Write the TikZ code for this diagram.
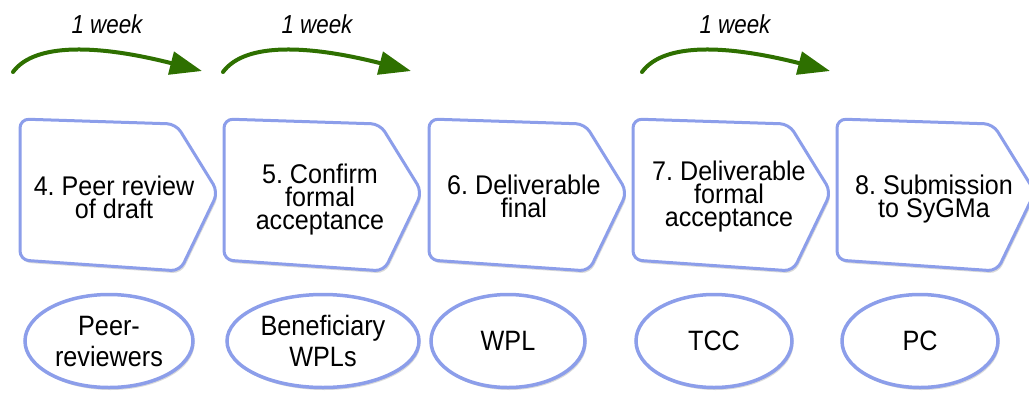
\documentclass[tikz,border=0pt]{standalone}
\usepackage{fontspec}
\setmainfont{Liberation Sans}
\newfontfamily\chevf[FakeStretch=0.93]{Liberation Sans}
\newfontfamily\ellf[FakeStretch=0.9]{Liberation Sans}
\newfontfamily\weekf[FakeStretch=0.86]{Liberation Sans}
\usetikzlibrary{shapes.geometric,shadows,arrows.meta}
\definecolor{rimblue}{RGB}{140,158,234}
\definecolor{arrgreen}{RGB}{46,112,0}
\frenchspacing
\tikzset{
  chev/.style={draw=rimblue, line width=3pt, fill=white, rounded corners=9pt,
    drop shadow={shadow xshift=1.5pt, shadow yshift=-2.5pt, opacity=0.15, fill=black}},
  chevtext/.style={align=center, inner sep=0pt, font=\chevf\fontsize{27}{23}\selectfont},
  role/.style={ellipse, draw=rimblue, line width=3.5pt, fill=white, inner sep=0pt,
    minimum height=93pt, align=center, font=\ellf\fontsize{28}{31}\selectfont,
    drop shadow={shadow xshift=1.5pt, shadow yshift=-2.5pt, opacity=0.15, fill=black}},
  weeklabel/.style={inner sep=0pt, font=\weekf\fontsize{26}{26}\selectfont\itshape},
  weekarrow/.style={draw=arrgreen, line width=4pt, line cap=round,
    -{Triangle[length=32pt,width=23pt]}}
}
\newcommand\chevshape[1]{%
  \path[chev] (#1+2,119) -- (#1+158,124) -- (#1+200,192) -- (#1+162,271) -- (#1+2,260) -- cycle;}
\begin{document}
\begin{tikzpicture}[x=1pt,y=-1pt]
\useasboundingbox (0,0) rectangle (1029,392);
\clip (0,0) rectangle (1029,392);
% week arrows
\coordinate (a1s) at (13,72);  \coordinate (a1e) at (202,71);
\coordinate (a2s) at (223,72); \coordinate (a2e) at (411,71);
\coordinate (a3s) at (642,72); \coordinate (a3e) at (830,71);
\draw[weekarrow] (a1s) .. controls +(22,-30) and +(-102,-26) .. (a1e);
\draw[weekarrow] (a2s) .. controls +(22,-30) and +(-102,-26) .. (a2e);
\draw[weekarrow] (a3s) .. controls +(22,-30) and +(-102,-26) .. (a3e);
\node[weeklabel] (w1) at (107,24) {1 week};
\node[weeklabel] (w2) at (317,24) {1 week};
\node[weeklabel] (w3) at (735,24) {1 week};
% chevrons
\chevshape{18}
\chevshape{222}
\chevshape{427}
\chevshape{631}
\chevshape{835}
\node[chevtext] (c4) at (114,197) {4. Peer review\\of draft};
\node[chevtext] (c5) at (320,199.5) {5. Confirm\\formal\\acceptance};
\node[chevtext] (c6) at (524,196) {6. Deliverable\\final};
\node[chevtext] (c7) at (729,197) {7. Deliverable\\formal\\acceptance};
\node[chevtext] (c8) at (934,199) {8. Submission\\to SyGMa};
% roles
\node[role, minimum width=168pt] (r4) at (109,341) {Peer-\\reviewers};
\node[role, minimum width=192pt] (r5) at (323,341) {Beneficiary\\WPLs};
\node[role, minimum width=154pt] (r6) at (508,341) {WPL};
\node[role, minimum width=156pt] (r7) at (714,341) {TCC};
\node[role, minimum width=156pt] (r8) at (920,341) {PC};
\end{tikzpicture}
\end{document}
